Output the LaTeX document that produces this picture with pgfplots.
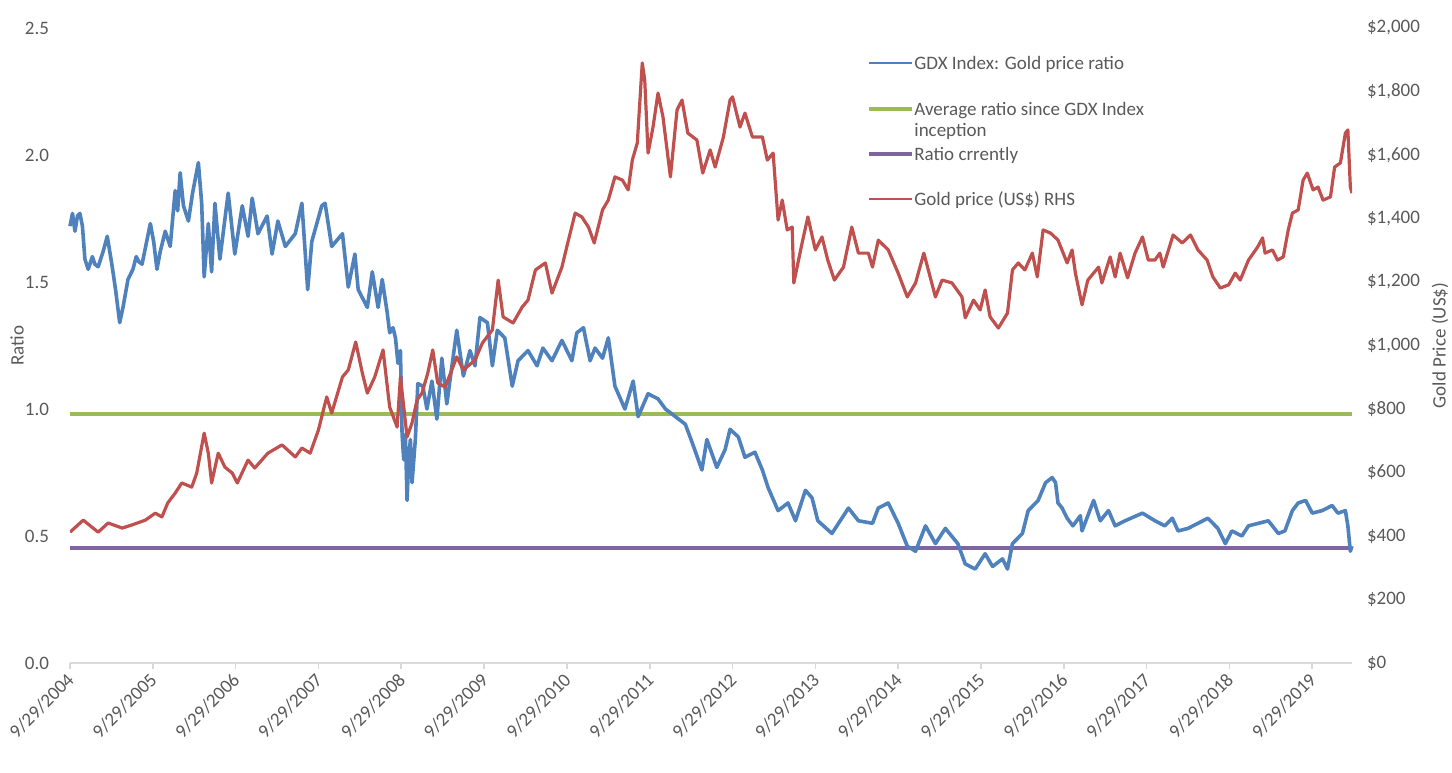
\documentclass[border=0pt]{standalone}
\usepackage{fontspec}
\setmainfont{Carlito}
\usepackage{pgfplots}
\pgfplotsset{compat=1.18}
\definecolor{gdxblue}{HTML}{4F81BD}
\definecolor{goldred}{HTML}{C0504D}
\definecolor{avggreen}{HTML}{9BBB59}
\definecolor{curpurple}{HTML}{8064A2}
\definecolor{txtgray}{HTML}{595959}
\definecolor{axgray}{HTML}{D9D9D9}

\pgfplotstableread{
yr ratio
0 1.72
0.03 1.77
0.06 1.70
0.09 1.76
0.12 1.77
0.15 1.72
0.18 1.59
0.22 1.55
0.27 1.60
0.30 1.57
0.34 1.56
0.40 1.62
0.45 1.68
0.48 1.62
0.51 1.56
0.55 1.47
0.60 1.34
0.64 1.40
0.70 1.51
0.76 1.55
0.80 1.60
0.83 1.58
0.87 1.57
0.92 1.65
0.97 1.73
1.01 1.66
1.05 1.55
1.09 1.62
1.15 1.70
1.21 1.64
1.27 1.86
1.30 1.78
1.33 1.93
1.37 1.80
1.43 1.74
1.48 1.85
1.55 1.97
1.59 1.81
1.62 1.52
1.67 1.73
1.71 1.54
1.75 1.81
1.81 1.59
1.91 1.85
1.99 1.61
2.08 1.80
2.15 1.68
2.20 1.83
2.27 1.69
2.38 1.76
2.44 1.61
2.51 1.74
2.60 1.64
2.72 1.69
2.80 1.81
2.87 1.47
2.92 1.66
3.04 1.80
3.08 1.81
3.16 1.64
3.29 1.69
3.36 1.48
3.44 1.61
3.48 1.47
3.59 1.40
3.65 1.54
3.72 1.40
3.77 1.51
3.83 1.38
3.86 1.30
3.90 1.32
3.93 1.28
3.96 1.18
3.99 1.23
4.01 0.90
4.03 0.80
4.05 0.90
4.07 0.64
4.09 0.80
4.11 0.88
4.13 0.71
4.17 0.88
4.20 1.10
4.26 1.09
4.31 1.00
4.37 1.11
4.43 0.96
4.49 1.20
4.55 1.02
4.67 1.31
4.75 1.13
4.83 1.23
4.89 1.17
4.95 1.36
5.04 1.34
5.10 1.17
5.16 1.31
5.25 1.28
5.34 1.09
5.41 1.19
5.53 1.23
5.64 1.17
5.71 1.24
5.82 1.19
5.94 1.27
6.06 1.19
6.12 1.30
6.20 1.32
6.28 1.19
6.34 1.24
6.43 1.20
6.50 1.28
6.58 1.09
6.70 1.00
6.80 1.11
6.86 0.97
6.98 1.06
7.10 1.04
7.19 1.00
7.31 0.97
7.43 0.94
7.51 0.87
7.63 0.76
7.69 0.88
7.81 0.77
7.91 0.84
7.97 0.92
8.07 0.89
8.15 0.81
8.27 0.83
8.36 0.76
8.43 0.69
8.55 0.60
8.67 0.63
8.76 0.56
8.88 0.68
8.96 0.65
9.03 0.56
9.20 0.51
9.40 0.61
9.52 0.56
9.69 0.55
9.76 0.61
9.88 0.63
10.00 0.55
10.11 0.46
10.21 0.44
10.33 0.54
10.45 0.47
10.57 0.53
10.72 0.47
10.81 0.39
10.93 0.37
11.05 0.43
11.14 0.38
11.26 0.41
11.32 0.37
11.38 0.47
11.50 0.51
11.57 0.60
11.69 0.64
11.78 0.71
11.86 0.73
11.90 0.71
11.93 0.63
11.98 0.61
12.04 0.57
12.11 0.54
12.20 0.58
12.22 0.52
12.36 0.64
12.44 0.56
12.54 0.60
12.62 0.54
12.74 0.56
12.95 0.59
13.10 0.56
13.22 0.54
13.31 0.57
13.38 0.52
13.50 0.53
13.62 0.55
13.74 0.57
13.86 0.53
13.95 0.47
14.03 0.52
14.15 0.50
14.23 0.54
14.35 0.55
14.47 0.56
14.59 0.51
14.67 0.52
14.76 0.60
14.83 0.63
14.92 0.64
15.00 0.59
15.12 0.60
15.24 0.62
15.31 0.59
15.40 0.60
15.43 0.54
15.46 0.44
15.48 0.46
}\ratiodata

\pgfplotstableread{
yr price
0 412
0.16 450
0.34 412
0.46 441
0.63 425
0.75 435
0.91 450
1.03 472
1.11 460
1.18 504
1.27 535
1.35 567
1.47 554
1.53 598
1.62 724
1.67 661
1.71 567
1.79 661
1.87 617
1.96 598
2.02 567
2.15 639
2.23 614
2.39 661
2.56 687
2.72 649
2.80 677
2.90 661
3.00 734
3.10 838
3.16 787
3.29 901
3.36 923
3.45 1011
3.53 913
3.59 850
3.68 901
3.78 986
3.86 806
3.95 743
3.99 901
4.07 712
4.13 756
4.19 828
4.25 850
4.32 913
4.38 986
4.44 882
4.53 869
4.61 923
4.67 964
4.75 923
4.89 954
4.98 1008
5.10 1049
5.17 1206
5.23 1090
5.35 1071
5.46 1121
5.53 1143
5.62 1238
5.74 1260
5.82 1165
5.94 1247
6.01 1323
6.10 1417
6.18 1405
6.26 1373
6.33 1323
6.43 1427
6.50 1458
6.58 1531
6.67 1521
6.74 1490
6.79 1584
6.85 1638
6.91 1890
6.94 1836
6.98 1606
7.04 1688
7.10 1795
7.16 1720
7.25 1531
7.33 1742
7.39 1773
7.46 1669
7.57 1647
7.64 1543
7.73 1616
7.79 1562
7.89 1657
7.97 1773
8.00 1783
8.09 1688
8.15 1732
8.24 1657
8.36 1657
8.42 1584
8.49 1606
8.55 1395
8.60 1458
8.66 1364
8.72 1373
8.74 1197
8.84 1323
8.91 1405
9.00 1301
9.08 1342
9.15 1269
9.23 1206
9.34 1247
9.44 1373
9.52 1291
9.64 1291
9.69 1247
9.76 1332
9.88 1301
10.00 1228
10.11 1153
10.21 1197
10.31 1291
10.45 1153
10.53 1206
10.65 1197
10.77 1153
10.81 1087
10.91 1143
10.99 1112
11.05 1175
11.11 1090
11.21 1055
11.32 1102
11.38 1238
11.45 1260
11.53 1238
11.62 1291
11.68 1216
11.75 1364
11.84 1354
11.93 1332
12.04 1260
12.10 1301
12.14 1228
12.22 1128
12.29 1206
12.42 1247
12.46 1197
12.56 1279
12.62 1216
12.68 1291
12.77 1213
12.86 1291
12.95 1342
13.02 1269
13.10 1269
13.16 1291
13.20 1247
13.32 1348
13.43 1323
13.53 1348
13.62 1301
13.73 1269
13.80 1216
13.89 1181
13.99 1191
14.07 1228
14.13 1206
14.23 1269
14.34 1310
14.40 1339
14.43 1291
14.52 1301
14.58 1269
14.65 1279
14.71 1364
14.76 1417
14.83 1427
14.89 1521
14.94 1543
15.01 1490
15.07 1499
15.13 1458
15.22 1468
15.27 1562
15.34 1575
15.40 1669
15.43 1679
15.46 1499
15.48 1480
}\golddata

\begin{document}
\begin{tikzpicture}[font=\fontsize{9.5}{11.5}\selectfont]
\path[use as bounding box] (-35pt,-54.5pt) rectangle (691pt,331.5pt);
\begin{axis}[
  at={(0,0)}, anchor=south west,
  scale only axis, width=641pt, height=317.5pt,
  xmin=0, xmax=15.48, ymin=0, ymax=2.5,
  axis x line*=bottom, axis y line*=left,
  x axis line style={axgray, line width=1pt},
  y axis line style={draw=none},
  xtick={0,1,...,15},
  xticklabels={9/29/2004,9/29/2005,9/29/2006,9/29/2007,9/29/2008,9/29/2009,9/29/2010,9/29/2011,9/29/2012,9/29/2013,9/29/2014,9/29/2015,9/29/2016,9/29/2017,9/29/2018,9/29/2019},
  xtick style={axgray, line width=0.8pt},
  tick align=outside, major tick length=3pt,
  ytick={0,0.5,1,1.5,2,2.5},
  yticklabels={0.0,0.5,1.0,1.5,2.0,2.5},
  ytick style={draw=none},
  tick label style={font=\fontsize{9.5}{11.5}\selectfont, text=txtgray},
  xticklabel style={rotate=45, anchor=east, xshift=1pt, yshift=-3pt},
  yticklabel style={xshift=-4pt},
  ylabel={Ratio},
  ylabel style={at={(axis description cs:-0.0413,0.5)}, rotate=0, anchor=center, text=txtgray, font=\fontsize{9.5}{11.5}\selectfont},
  clip=false,
]
\addplot[avggreen, line width=2.4pt] coordinates {(0,0.98) (15.48,0.98)};
\addplot[curpurple, line width=2.4pt] coordinates {(0,0.453) (15.48,0.453)};
\addplot[gdxblue, line width=1.8pt, line join=round] table[x=yr, y=ratio] {\ratiodata};
\end{axis}
\begin{axis}[
  at={(0,0)}, anchor=south west,
  scale only axis, width=641pt, height=317.5pt,
  xmin=0, xmax=15.48, ymin=0, ymax=2000,
  axis x line=none, axis y line*=right,
  y axis line style={draw=none},
  ytick={0,200,...,2000},
  yticklabels={{\$0},{\$200},{\$400},{\$600},{\$800},{\$1,000},{\$1,200},{\$1,400},{\$1,600},{\$1,800},{\$2,000}},
  ytick style={draw=none},
  tick label style={font=\fontsize{9.5}{11.5}\selectfont, text=txtgray},
  yticklabel style={xshift=4pt},
  ylabel={Gold Price (US\$)},
  ylabel style={at={(axis description cs:1.0686,0.5)}, rotate=0, anchor=center, text=txtgray, font=\fontsize{9.5}{11.5}\selectfont},
]
\addplot[goldred, line width=1.6pt, line join=round] table[x=yr, y=price] {\golddata};
\end{axis}
% legend
\draw[gdxblue, line width=1.4pt] (399.5pt,300pt) -- (421pt,300pt);
\node[anchor=base west, inner sep=0pt, text=txtgray] at (422pt,296.8pt) {GDX Index: Gold price ratio};
\draw[avggreen, line width=2.4pt] (399.5pt,277pt) -- (421pt,277pt);
\node[anchor=base west, inner sep=0pt, text=txtgray] at (422pt,273.8pt) {Average ratio since GDX Index};
\node[anchor=base west, inner sep=0pt, text=txtgray] at (422pt,263.3pt) {inception};
\draw[curpurple, line width=2.4pt] (399.5pt,254.5pt) -- (421pt,254.5pt);
\node[anchor=base west, inner sep=0pt, text=txtgray] at (422pt,251.3pt) {Ratio crrently};
\draw[goldred, line width=1.4pt] (399.5pt,232pt) -- (421pt,232pt);
\node[anchor=base west, inner sep=0pt, text=txtgray] at (422pt,228.8pt) {Gold price (US\$) RHS};
\end{tikzpicture}
\end{document}
